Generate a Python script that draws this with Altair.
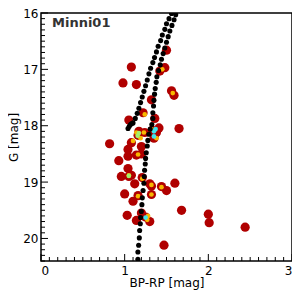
import altair as alt
import pandas as pd

# Observed stars (BP-RP, G)
star_c = [1.08, 0.98, 1.14, 1.50, 1.42, 1.48, 1.56, 1.59, 1.65, 1.32, 1.22, 1.36, 1.05,
          1.17, 1.24, 1.33, 1.38, 1.41, 0.82, 1.08, 1.20, 1.04, 1.04, 1.14, 1.20, 0.93,
          1.04, 0.96, 1.05, 1.08, 1.21, 1.12, 1.30, 1.32, 1.44, 1.50, 1.60, 1.00, 1.16,
          1.32, 1.10, 1.03, 1.20, 1.14, 1.25, 1.30, 1.68, 2.00, 2.01, 2.44, 1.47, 1.16,
          1.36, 1.35]
star_g = [16.96, 17.24, 17.27, 16.66, 17.03, 16.97, 17.38, 17.46, 18.05, 17.54, 17.77, 17.87, 17.90,
          18.10, 18.12, 18.08, 18.12, 18.04, 18.32, 18.30, 18.37, 18.42, 18.54, 18.52, 18.50, 18.62,
          18.76, 18.90, 18.90, 18.88, 18.92, 19.03, 19.03, 19.07, 19.08, 19.15, 19.02, 19.21, 19.24,
          19.22, 19.34, 19.59, 19.55, 19.68, 19.62, 19.70, 19.50, 19.57, 19.72, 19.80, 20.12, 18.17,
          18.15, 18.22]

# overlap highlights
yel_c = [1.45, 1.575, 1.24, 1.14, 1.19, 1.23, 1.32, 1.38, 1.16, 1.05, 1.21, 1.32, 1.44, 1.16, 1.32, 1.27, 1.28, 1.10]
yel_g = [17.00, 17.42, 17.80, 18.12, 18.22, 18.12, 18.06, 18.22, 18.51, 18.88, 18.94, 19.05, 19.09, 19.25, 19.22, 19.67, 19.60, 18.27]
grn_c = [1.155, 1.05, 1.17]
grn_g = [18.18, 18.89, 18.13]
cyn_c = [1.35, 1.35, 1.25, 1.37]
cyn_g = [18.10, 18.19, 19.63, 18.06]

# isochrone points
iso_c = [1.158, 1.158, 1.167, 1.175, 1.179, 1.187, 1.190, 1.199, 1.206, 1.211, 1.22, 1.23, 1.234,
         1.238, 1.246, 1.25, 1.258, 1.27, 1.277, 1.289, 1.305, 1.325, 1.337, 1.337, 1.345, 1.35,
         1.357, 1.365, 1.377, 1.385, 1.405, 1.425, 1.44, 1.46, 1.48, 1.50, 1.52, 1.54, 1.565,
         1.59, 1.61,
         1.04, 1.055, 1.07, 1.085, 1.10, 1.127, 1.15, 1.17, 1.19, 1.21, 1.23, 1.25, 1.27, 1.29,
         1.31, 1.337, 1.357, 1.38, 1.40, 1.43, 1.45, 1.48, 1.50, 1.53, 1.56]
iso_g = [20.37, 20.24, 20.12, 19.99, 19.86, 19.74, 19.63, 19.52, 19.40, 19.28, 19.15, 19.02, 18.90,
         18.79, 18.68, 18.58, 18.48, 18.36, 18.26, 18.15, 18.06, 17.98, 17.87, 17.77, 17.65, 17.55,
         17.44, 17.34, 17.23, 17.13, 17.02, 16.92, 16.82, 16.72, 16.62, 16.52, 16.42, 16.32, 16.22,
         16.12, 16.03,
         18.05, 18.01, 17.98, 17.96, 17.95, 17.87, 17.78, 17.69, 17.59, 17.49, 17.39, 17.29, 17.19, 17.08,
         16.98, 16.88, 16.79, 16.69, 16.59, 16.49, 16.39, 16.29, 16.19, 16.10, 16.01]

x_major = [0, 1, 2, 3]
y_major = [16, 17, 18, 19, 20]
x_minor = [i / 10 for i in range(0, 31) if i % 10 != 0]
y_minor = [16 + i / 10 for i in range(0, 45) if i % 10 != 0]

W, H = 251, 248
xs = alt.Scale(domain=[0, 3], nice=False, zero=False)
ys = alt.Scale(domain=[16, 20.4], reverse=True, nice=False, zero=False)
FONT = "DejaVu Sans"

stars = pd.DataFrame({"c": star_c, "g": star_g})
base = alt.Chart(stars).mark_circle(size=85, color="#B00000", opacity=1, clip=True).encode(
    x=alt.X("c:Q", scale=xs, title="BP-RP [mag]",
            axis=alt.Axis(values=x_major, format="d", ticks=False, domain=False, grid=False,
                          labelPadding=4, titlePadding=1, labelFontSize=12, titleFontSize=12,
                          titleFontWeight="normal", labelColor="black", titleColor="black",
                          labelFont=FONT, titleFont=FONT)),
    y=alt.Y("g:Q", scale=ys, title="G [mag]",
            axis=alt.Axis(values=y_major, format="d", ticks=False, domain=False, grid=False,
                          labelPadding=3, titlePadding=2, labelFontSize=12, titleFontSize=12,
                          titleFontWeight="normal", labelColor="black", titleColor="black",
                          labelFont=FONT, titleFont=FONT)),
)

def pts(c, g, color, size):
    return alt.Chart(pd.DataFrame({"c": c, "g": g})).mark_circle(
        size=size, color=color, opacity=1, clip=True).encode(
        x=alt.X("c:Q", scale=xs), y=alt.Y("g:Q", scale=ys))

yel = pts(yel_c, yel_g, "#F7B800", 22)
grn = pts(grn_c, grn_g, "#A6F06A", 22)
cyn = pts(cyn_c, cyn_g, "#3FE6F0", 22)
iso = pts(iso_c, iso_g, "black", 26)

def xticks(vals, ln):
    return alt.Chart(pd.DataFrame({"v": vals})).mark_rule(color="black", strokeWidth=1).encode(
        x=alt.X("v:Q", scale=xs), y=alt.value(H), y2=alt.value(H - ln))

def yticks(vals, ln):
    return alt.Chart(pd.DataFrame({"v": vals})).mark_rule(color="black", strokeWidth=1).encode(
        y=alt.Y("v:Q", scale=ys), x=alt.value(0), x2=alt.value(ln))

label = alt.Chart(pd.DataFrame({"t": ["Minni01"]})).mark_text(
    align="left", baseline="middle", font=FONT, fontSize=13, fontWeight="bold", color="#333333"
).encode(text="t:N", x=alt.value(11), y=alt.value(10))

chart = alt.layer(
    base, yel, grn, cyn, iso,
    xticks(x_major, 7), xticks(x_minor, 4), yticks(y_major, 7), yticks(y_minor, 4),
    label
).properties(
    width=W, height=H,
    autosize=alt.AutoSizeParams(type="none"),
    padding={"left": 33, "top": 5, "right": 0, "bottom": 31},
).configure_view(stroke="black", strokeWidth=1.5)

chart.save("out.html", embed_options={"renderer": "svg", "actions": False})
